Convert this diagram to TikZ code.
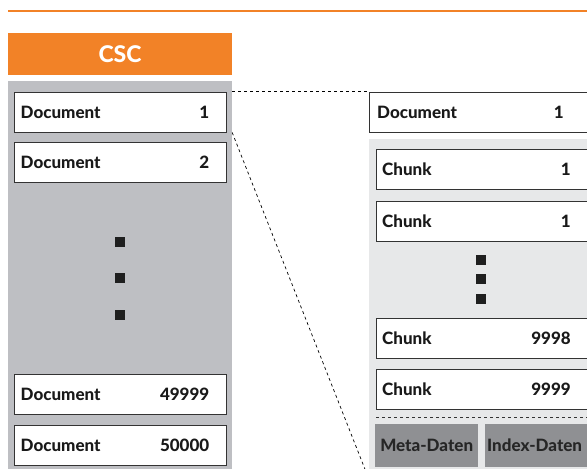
\documentclass[tikz,border=0pt]{standalone}
\usepackage{fontspec}
\setmainfont{Lato}[BoldFont={Lato Heavy}]
\usetikzlibrary{positioning}
\definecolor{cscorange}{HTML}{F28227}
\definecolor{storegray}{HTML}{BEBFC3}
\definecolor{chunkgray}{HTML}{E7E8E9}
\definecolor{metagray}{HTML}{8F9093}
\definecolor{boxline}{HTML}{333333}
\tikzset{
  docbox/.style={draw=boxline,line width=1pt,fill=white,inner sep=0pt,minimum height=40pt},
  lbl/.style={inner sep=0pt,text=black!90,font=\bfseries\fontsize{17}{17}\selectfont},
  dot/.style={fill=black!88,inner sep=0pt,minimum size=10pt},
  datbox/.style={fill=metagray,inner sep=0pt,minimum height=43pt}
}
\begin{document}
\begin{tikzpicture}[x=1pt,y=-1pt]
\clip (0,0) rectangle (587,469);
\fill[white] (0,0) rectangle (587,469);
\fill[cscorange] (8,10) rectangle (587,12);
\node[fill=cscorange,inner sep=0pt,minimum width=224pt,minimum height=42pt,text=white,
  font=\bfseries\fontsize{23}{23}\selectfont] (csc) at (120,54) {CSC};
\node[fill=storegray,inner sep=0pt,minimum width=224pt,minimum height=400pt,anchor=north] (store) at (120,81) {};
\node[fill=chunkgray,inner sep=0pt,minimum width=230pt,minimum height=340pt,anchor=north west] (chunks) at (369,139) {};

\foreach \n/\y/\nr in {d1/112/1,d2/162/2,d3/394/49999,d4/445/50000} {
    \node[docbox,minimum width=212pt] (\n) at (120,\y) {};
    \node[lbl,right=7pt of \n.west] (\n-t) {Document};
    \node[lbl,left=17pt of \n.east] (\n-nr) {\nr};
}
\foreach \n/\y in {s1/242,s2/278,s3/315} {
    \node[dot] (\n) at (120,\y) {};
}

\node[docbox,minimum width=221pt,anchor=west] (doc) at (369,112) {};
\node[lbl,right=8pt of doc.west] (doc-t) {Document};
\node[lbl,left=27pt of doc.east] (doc-nr) {1};
\foreach \n/\y/\nr in {c1/169/1,c2/221/1,c3/338/9998,c4/389/9999} {
    \node[docbox,minimum width=214pt,anchor=west] (\n) at (376,\y) {};
    \node[lbl,right=6pt of \n.west] (\n-t) {Chunk};
    \node[lbl,left=20pt of \n.east] (\n-nr) {\nr};
}
\foreach \n/\y in {r1/260,r2/279,r3/299} {
    \node[dot] (\n) at (481,\y) {};
}

\coordinate (cut) at (376,417);
\draw[dashed,line width=0.8pt,boxline] (cut) -- (cut -| chunks.east);
\node[datbox,minimum width=103pt,anchor=north west] (meta) at (375,424) {};
\node[lbl,text=black!85] (meta-t) at (meta.center) {Meta-Daten};
\node[datbox,minimum width=105pt,anchor=north west] (index) at (485,424) {};
\node[lbl,text=black!85,right=2pt of index.west] (index-t) {Index-Daten};

\draw[dashed,line width=0.7pt] (d1.north -| store.east) -- (doc.north west);
\draw[dashed,line width=0.7pt] (d1.south -| store.east) -- (chunks.south west);
\end{tikzpicture}
\end{document}
